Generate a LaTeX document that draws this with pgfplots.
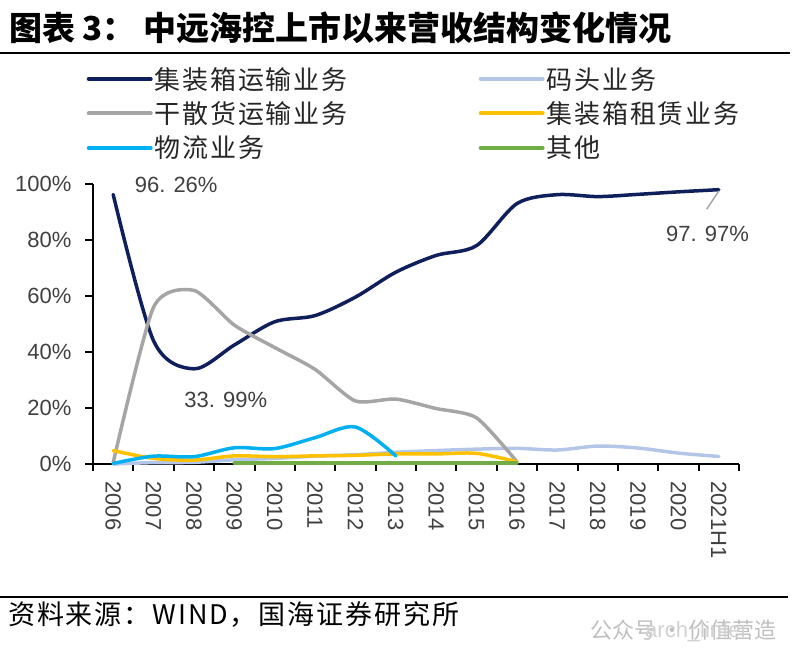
\documentclass[border=0pt]{standalone}
\usepackage{fontspec}
\usepackage{pgfplots}
\pgfplotsset{compat=1.18}
\setmainfont{Liberation Sans}
\newfontfamily\cjk{Noto Sans CJK SC}
\newfontfamily\cjks[LetterSpace=7]{Noto Sans CJK SC}
\definecolor{cnavy}{HTML}{0E1F5B}
\definecolor{clblue}{HTML}{B4C6E7}
\definecolor{cgray}{HTML}{A5A5A5}
\definecolor{cyellow}{HTML}{FFC000}
\definecolor{ccyan}{HTML}{00B0F0}
\definecolor{cgreen}{HTML}{70AD47}
\definecolor{ctxt}{HTML}{404040}
\begin{document}
\begin{tikzpicture}[x=1pt,y=1pt]
\path[use as bounding box] (0,0) rectangle (800,656);
\node[anchor=west, inner sep=0pt, font=\cjk\bfseries\fontsize{33}{36}\selectfont] at (9,628) {图表 3：};
\node[anchor=west, inner sep=0pt, font=\cjk\bfseries\fontsize{33}{36}\selectfont] at (143,628) {中远海控上市以来营收结构变化情况};
\draw[line width=2.5pt] (0,603) -- (790,603);
\draw[line width=2.5pt] (0,59) -- (788,59);
\node[anchor=west, inner sep=0pt, font=\cjks\fontsize{27}{30}\selectfont] at (8,41) {资料来源：WIND，国海证券研究所};
\node[anchor=west, inner sep=0pt, text=black!25, font=\cjk\fontsize{22}{26}\selectfont] at (590,26) {公众号 · 价值营造};
\node[anchor=west, inner sep=0pt, text=black!18, font=\fontsize{22}{26}\selectfont] at (645,24) {arch\_linfei};
\begin{axis}[
  at={(93pt,192pt)}, anchor=south west, scale only axis,
  width=646pt, height=280pt,
  xmin=-0.5, xmax=15.5, ymin=0, ymax=100,
  clip=false,
  axis lines=left,
  axis line style={-, line width=2pt, black},
  xtick={0,...,15},
  xticklabels={2006,2007,2008,2009,2010,2011,2012,2013,2014,2015,2016,2017,2018,2019,2020,2021H1},
  major x tick style={draw=none},
  minor xtick={-0.5,0.5,...,15.5},
  minor x tick style={black, line width=2pt},
  minor tick length=7pt,
  ytick={0,20,...,100},
  major tick length=8pt,
  ytick style={black, line width=2pt},
  tick align=outside,
  /pgf/number format/assume math mode=true,
  yticklabel={\pgfmathprintnumber{\tick}\%},
  ticklabel style={font=\fontsize{22}{26}\selectfont, text=ctxt},
  xticklabel style={rotate=-90, anchor=west, xshift=6pt},
  yticklabel style={xshift=-10pt},
  legend columns=2,
  legend cell align=left,
  legend style={at={(-0.01,1.425)}, anchor=north west, draw=none, fill=none,
    inner sep=0pt, row sep=7pt,
    font=\cjks\fontsize{26}{30}\selectfont, text=black!85,
    /tikz/every even column/.append style={column sep=129pt}},
  legend image code/.code={\draw[#1, line width=4pt, line cap=round] (0pt,0pt) -- (62pt,0pt);},
  every axis plot/.append style={line width=3.5pt, line cap=round, smooth, mark=none},
]
\addplot[cnavy] coordinates {(0,96.26) (1,44) (2,33.99) (3,42.5) (4,50.8) (5,53) (6,59.6) (7,68.5) (8,74.5) (9,78) (10,93) (11,96.2) (12,95.5) (13,96.3) (14,97.2) (15,97.97)};
\addlegendentry{集装箱运输业务}
\addplot[clblue] coordinates {(0,0) (1,0.5) (2,0.6) (3,1.5) (4,2) (5,2.8) (6,3.3) (7,4.2) (8,4.8) (9,5.3) (10,5.6) (11,5) (12,6.4) (13,5.7) (14,3.9) (15,2.7)};
\addlegendentry{码头业务}
\addplot[cgray, tension=0.4] coordinates {(0,0.5) (1,56) (2,62) (3,49.6) (4,41.6) (5,33.8) (6,22.5) (7,23.2) (8,19.8) (9,16.5) (10,0.8)};
\addlegendentry{干散货运输业务}
\addplot[cyellow] coordinates {(0,4.8) (1,2.0) (2,1.4) (3,2.9) (4,2.6) (5,2.9) (6,3.1) (7,3.6) (8,3.6) (9,3.8) (10,0.8)};
\addlegendentry{集装箱租赁业务}
\addplot[ccyan] coordinates {(0,0.2) (1,2.8) (2,2.6) (3,5.8) (4,5.5) (5,9.4) (6,13.2) (7,2.9)};
\addlegendentry{物流业务}
\addplot[cgreen] coordinates {(3,0.3) (4,0.3) (5,0.3) (6,0.3) (7,0.3) (8,0.3) (9,0.3) (10,0.3)};
\addlegendentry{其他}
\node[font=\fontsize{22}{26}\selectfont, text=ctxt] at (axis cs:1.56,99.6) {96. 26\%};
\node[font=\fontsize{22}{26}\selectfont, text=ctxt] at (axis cs:2.79,22.9) {33. 99\%};
\node[font=\fontsize{22}{26}\selectfont, text=ctxt] at (axis cs:14.72,82.1) {97. 97\%};
\draw[cgray, line width=1.5pt] (axis cs:15,97.5) -- (axis cs:14.7,91);
\end{axis}
\end{tikzpicture}
\end{document}
